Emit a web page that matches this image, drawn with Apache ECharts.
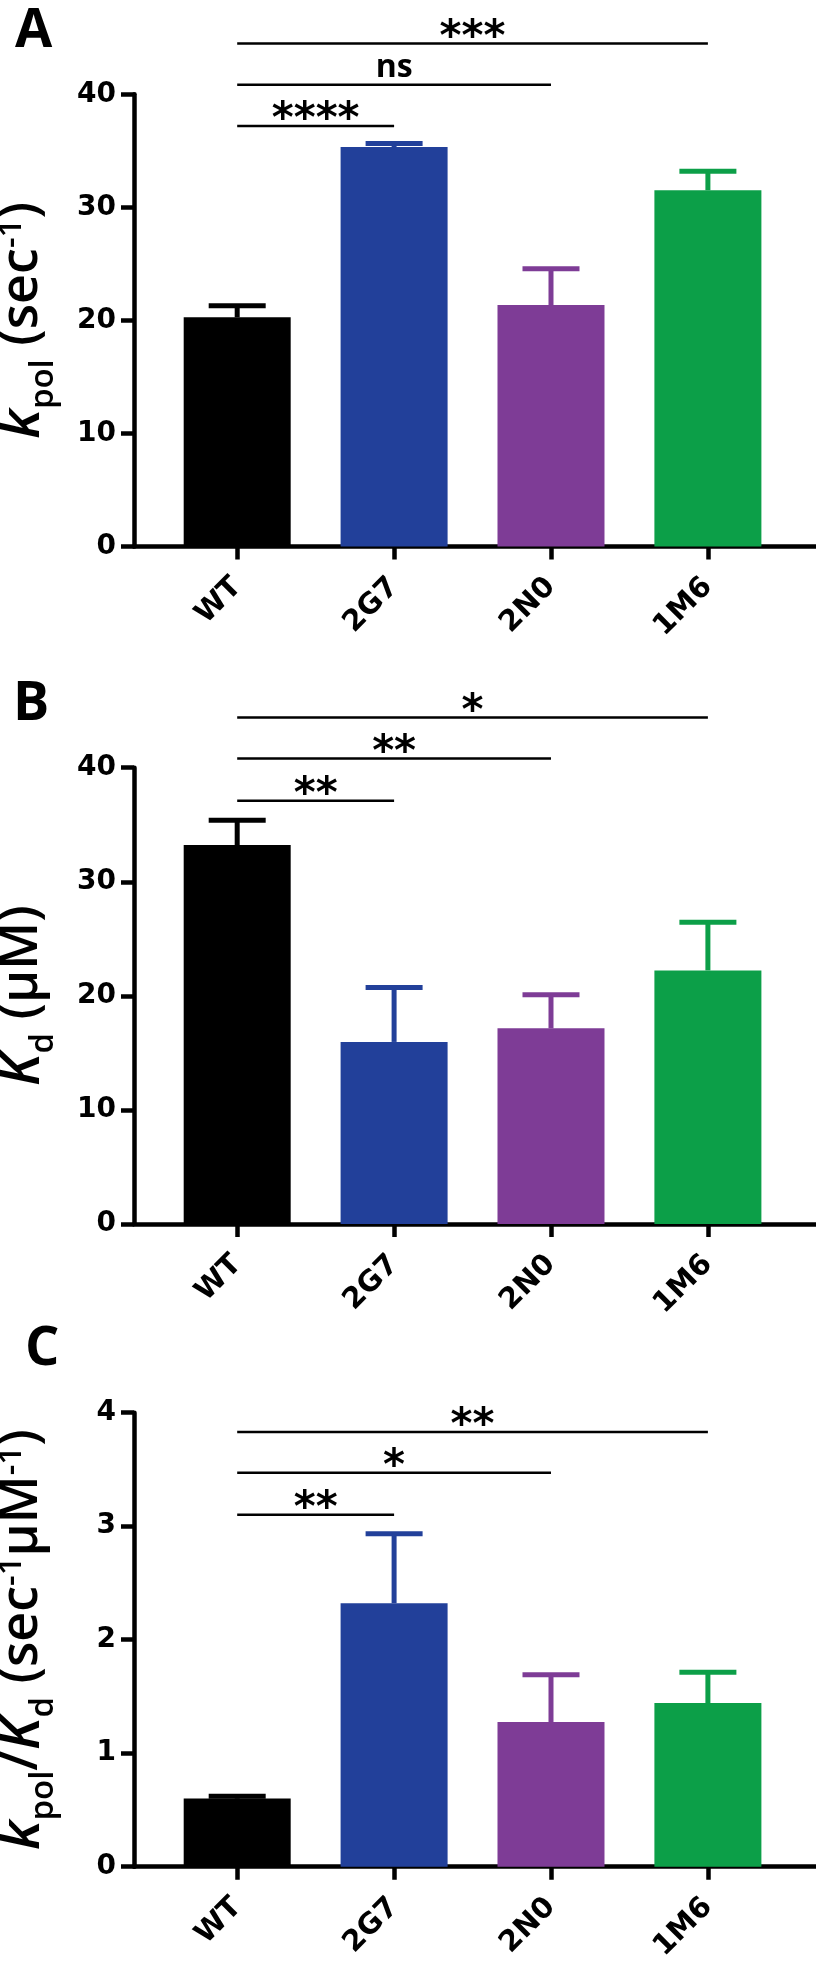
<!DOCTYPE html>
<html><head><meta charset="utf-8">
<script src="https://cdn.jsdelivr.net/npm/echarts@6/dist/echarts.min.js"></script>
<style>html,body{margin:0;padding:0;background:#fff}#c{width:816px;height:1961px}</style>
</head><body><div id="c"></div>
<script>
// ---- data ----
const categories = ['WT', '2G7', '2N0', '1M6'];
const barColors = ['#000000', '#22409A', '#7E3C96', '#0C9F48'];

const kpolMean = [20.27, 35.34, 21.36, 31.51];
const kpolErr  = [1.02, 0.31, 3.20, 1.68];
const kdMean   = [33.22, 15.96, 17.15, 22.23];
const kdErr    = [2.17, 4.77, 2.94, 4.22];
const effMean  = [0.600, 2.321, 1.275, 1.442];
const effErr   = [0.020, 0.612, 0.416, 0.272];

// significance comparisons: WT vs 2G7, WT vs 2N0, WT vs 1M6
const sigTo    = [1, 2, 3];
const kpolSig  = ['****', 'ns', '***'];
const kdSig    = ['**', '**', '*'];
const effSig   = ['**', '*', '**'];
const kpolSigY = [37.2, 40.85, 44.5];
const kdSigY   = [37.1, 40.8, 44.4];
const effSigY  = [3.10, 3.47, 3.83];

const kpolAxis = [0, 40, 10];   // min, max, interval
const kdAxis   = [0, 40, 10];
const effAxis  = [0, 4, 1];

// ---- styling / layout ----
const STEM_W = 5, CAP_W = 57, CAP_T = 5, BAR_W = 107;
const AXIS_W = 4.5;
const panels = [
  {letter: 'A', left: 15, top: 5, gridTop: 94.3, gridBottom: 1414.5, mean: kpolMean, err: kpolErr, sig: kpolSig, sigY: kpolSigY, axis: kpolAxis,
   name: '{k|k}{sub|pol}{t| (sec}{sup|-1}{t|)}'},
  {letter: 'B', left: 13, top: 678, gridTop: 767.7, gridBottom: 737, mean: kdMean, err: kdErr, sig: kdSig, sigY: kdSigY, axis: kdAxis,
   name: '{k|K}{sub|d}{t| (µM)}'},
  {letter: 'C', left: 25, top: 1323, gridTop: 1412.7, gridBottom: 94.3, mean: effMean, err: effErr, sig: effSig, sigY: effSigY, axis: effAxis,
   name: '{k|k}{sub|pol}{t|/}{k|K}{sub|d}{t| (sec}{sup|-1}{t|µM}{sup|-1}{t|)}'}
];

const titleRich = {
  t:   {fontSize: 52, fontWeight: 600, fontFamily: 'Open Sans', color: '#000', lineHeight: 70, verticalAlign: 'middle'},
  k:   {fontSize: 56, fontWeight: 600, fontStyle: 'italic', fontFamily: 'Open Sans', color: '#000', lineHeight: 70, verticalAlign: 'middle', padding: [3, 0, 0, 0]},
  sub: {fontSize: 33, fontWeight: 600, fontFamily: 'Open Sans', color: '#000', lineHeight: 70, verticalAlign: 'middle', padding: [43, 0, 0, 0]},
  sup: {fontSize: 33, fontWeight: 600, fontFamily: 'Open Sans', color: '#000', lineHeight: 70, verticalAlign: 'middle', padding: [0, 0, 21, 0]}
};

function errRender(params, api) {
  const x = api.value(0), m = api.value(1), e = api.value(2);
  const base = api.coord([x, m]);
  const top = api.coord([x, m + e]);
  const c = barColors[params.dataIndex];
  return {type: 'group', children: [
    {type: 'rect', shape: {x: base[0] - STEM_W / 2, y: top[1], width: STEM_W, height: Math.max(0, base[1] - top[1])}, style: {fill: c}},
    {type: 'rect', shape: {x: top[0] - CAP_W / 2, y: top[1] - CAP_T / 2, width: CAP_W, height: CAP_T}, style: {fill: c}}
  ]};
}
function makeSigRender(labels) {
  return function (params, api) {
    const y = api.value(2);
    const a = api.coord([api.value(0), y]);
    const b = api.coord([api.value(1), y]);
    const lab = labels[params.dataIndex];
    const isWord = /[a-z]/i.test(lab);
    return {type: 'group', children: [
      {type: 'line', shape: {x1: a[0], y1: a[1], x2: b[0], y2: b[1]}, style: {stroke: '#000', lineWidth: 2.5}},
      {type: 'text', x: (a[0] + b[0]) / 2, y: a[1] - (isWord ? 17 : 4.6),
       style: {text: lab, fill: '#000', align: 'center', verticalAlign: 'middle',
               fontSize: isWord ? 32 : 42, fontWeight: 'bold', fontFamily: isWord ? 'Open Sans' : 'DejaVu Sans'}}
    ]};
  };
}

const idx = categories.map((_, i) => i);
const option = {animation: false, backgroundColor: '#fff', title: [], grid: [], xAxis: [], yAxis: [], series: []};

panels.forEach((p, g) => {
  option.title.push({text: p.letter, left: p.left, top: p.top, padding: 0,
    textStyle: {fontSize: 54, fontWeight: 'bold', fontFamily: 'Open Sans', color: '#000', lineHeight: 54}});
  option.grid.push({left: 134, right: 0, top: p.gridTop, bottom: p.gridBottom, containLabel: false, outerBoundsMode: 'none'});
  option.xAxis.push({
    type: 'value', gridIndex: g, min: -0.6577, max: 3.689,
    axisLine: {show: true, onZero: false, lineStyle: {color: '#000', width: AXIS_W}},
    axisTick: {show: true, customValues: idx, length: 13, lineStyle: {color: '#000', width: AXIS_W}},
    axisLabel: {show: true, customValues: idx, formatter: v => categories[Math.round(v)], rotate: 45, margin: 36,
      fontSize: 29, fontWeight: 'bold', fontFamily: 'DejaVu Sans', color: '#000'},
    splitLine: {show: false}
  });
  option.yAxis.push({
    type: 'value', gridIndex: g, min: p.axis[0], max: p.axis[1], interval: p.axis[2],
    axisLine: {show: true, onZero: false, lineStyle: {color: '#000', width: AXIS_W}},
    axisTick: {show: true, length: 13, lineStyle: {color: '#000', width: AXIS_W}},
    axisLabel: {show: true, margin: 18, fontSize: 28, fontWeight: 'bold', fontFamily: 'DejaVu Sans', color: '#000'},
    splitLine: {show: false},
    name: p.name, nameLocation: 'middle', nameGap: 77, nameRotate: 90,
    nameTextStyle: {rich: titleRich}
  });
  option.series.push({
    type: 'bar', xAxisIndex: g, yAxisIndex: g, barWidth: BAR_W, silent: true,
    data: p.mean.map((m, i) => ({value: [i, m], itemStyle: {color: barColors[i]}}))
  });
  option.series.push({
    type: 'custom', xAxisIndex: g, yAxisIndex: g, silent: true, clip: false, z: 3,
    encode: {x: 0, y: [1, 2]},
    data: p.mean.map((m, i) => [i, m, p.err[i]]),
    renderItem: errRender
  });
  option.series.push({
    type: 'custom', xAxisIndex: g, yAxisIndex: g, silent: true, clip: false, z: 4,
    encode: {x: [0, 1], y: 2},
    data: sigTo.map((t, i) => [0, t, p.sigY[i]]),
    renderItem: makeSigRender(p.sig)
  });
});

const chart = echarts.init(document.getElementById('c'), null, {renderer: 'canvas'});
chart.setOption(option);
</script>
</body></html>
